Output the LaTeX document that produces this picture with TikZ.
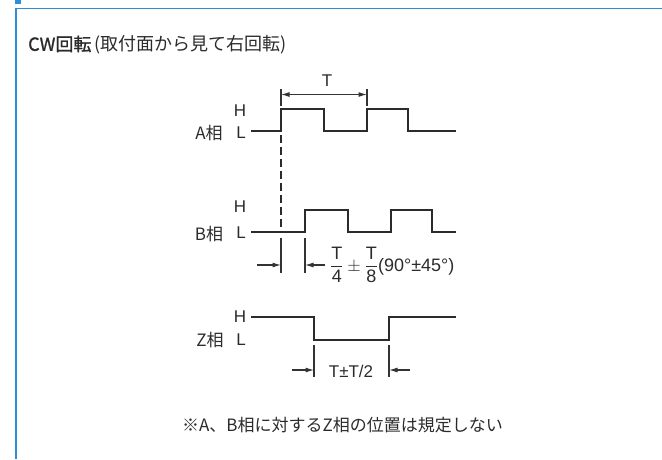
\documentclass[tikz,border=0pt]{standalone}
\usepackage{amsmath}
\usepackage{fontspec}
\setmainfont{Liberation Sans}
\newfontfamily\jp{Noto Sans CJK JP}
\newfontfamily\jpbold[FakeBold=1.2]{Noto Sans CJK JP}
\usepackage{xcolor}
\definecolor{frameBlue}{HTML}{2A8FD6}
\definecolor{waveDark}{HTML}{2B2B2B}
\definecolor{dimGray}{HTML}{333333}
\usetikzlibrary{arrows.meta}
\tikzset{
    wave/.style={
        draw=waveDark,
        line width=2pt,
        line join=miter
    },
    dimline/.style={
        draw=dimGray,
        line width=1.1pt
    },
    dimarrow/.style={
        dimline,
        -{Latex[length=8.5pt,width=5pt]}
    },
    twoarrow/.style={
        dimline,
        {Latex[length=8.5pt,width=5pt]}-{Latex[length=8.5pt,width=5pt]}
    },
    guide/.style={
        draw=waveDark,
        line width=1.8pt,
        dash pattern=on 8pt off 4pt
    },
    lbl/.style={
        font=\fontsize{17}{20}\selectfont,
        text=waveDark,
        inner sep=0pt
    },
    phase/.style={
        lbl,
        font=\fontsize{17}{20}\selectfont\jp
    }
}

\begin{document}
\begin{tikzpicture}[x=1pt,y=-1pt]
    \useasboundingbox (0,0) rectangle (662,459);
    % Frame
    \fill[frameBlue] (15,0) rectangle (21,4);
    \draw[frameBlue, line width=1.6pt] (16,459) -- (16,8.5) -- (662,8.5);
    \node[lbl, anchor=west, font=\fontsize{18}{20}\selectfont\jp] (title) at (28,45)
        {{\jpbold CW回転}\,(取付面から見て右回転)};

    % A phase
    \node[phase] (aName) at (209,133) {A相};
    \node[lbl] (aH) at (240,111) {H};
    \node[lbl] (aL) at (241,133) {L};
    \draw[wave] (251,131) -- (281,131) -- (281,109) -- (324,109) -- (324,131)
        -- (367,131) -- (367,109) -- (408,109) -- (408,131) -- (456,131);

    % Period
    \coordinate (tL) at (281,94.5);
    \coordinate (tR) at (367,94.5);
    \draw[dimline] (281,89) -- (281,106);
    \draw[dimline] (367,89) -- (367,106);
    \draw[twoarrow] (tL) -- (tR);
    \node[lbl] (tLabel) at (327,81) {T};

    % Guide
    \draw[guide] (281,135) -- (281,229);

    % B phase
    \node[phase] (bName) at (209,234) {B相};
    \node[lbl] (bH) at (240,207) {H};
    \node[lbl] (bL) at (241,233) {L};
    \draw[wave] (251,231.5) -- (305,231.5) -- (305,209.5) -- (348,209.5) -- (348,231.5)
        -- (391,231.5) -- (391,209.5) -- (432,209.5) -- (432,231.5) -- (456,231.5);

    % Phase difference
    \draw[dimline] (281,238) -- (281,273);
    \draw[dimline] (305,238) -- (305,273);
    \coordinate (pdL) at (281,265);
    \coordinate (pdR) at (305,265);
    \coordinate (pdLout) at (257,265);
    \coordinate (pdRout) at (325,265);
    \draw[dimarrow] (pdLout) -- (pdL);
    \draw[dimarrow] (pdRout) -- (pdR);
    \node[lbl, anchor=base west, font=\fontsize{18}{20}\selectfont] (pdLabel) at (330,271)
        {$\dfrac{\text{T}}{\text{4}}\pm\dfrac{\text{T}}{\text{8}}$(90°±45°)};

    % Z phase
    \node[phase] (zName) at (210,340) {Z相};
    \node[lbl] (zH) at (240,317) {H};
    \node[lbl] (zL) at (241,340) {L};
    \draw[wave] (251,317) -- (314,317) -- (314,339.5) -- (389,339.5) -- (389,317) -- (456,317);

    % Z width
    \draw[dimline] (314,345) -- (314,377);
    \draw[dimline] (389,345) -- (389,377);
    \coordinate (zwL) at (314,370);
    \coordinate (zwR) at (389,370);
    \coordinate (zwLout) at (292,370);
    \coordinate (zwRout) at (410,370);
    \draw[dimarrow] (zwLout) -- (zwL);
    \draw[dimarrow] (zwRout) -- (zwR);
    \node[lbl] (zwLabel) at (351,371) {T±T/2};

    % Note
    \node[phase] (note) at (342.5,425) {※A、B相に対するZ相の位置は規定しない};
\end{tikzpicture}
\end{document}
